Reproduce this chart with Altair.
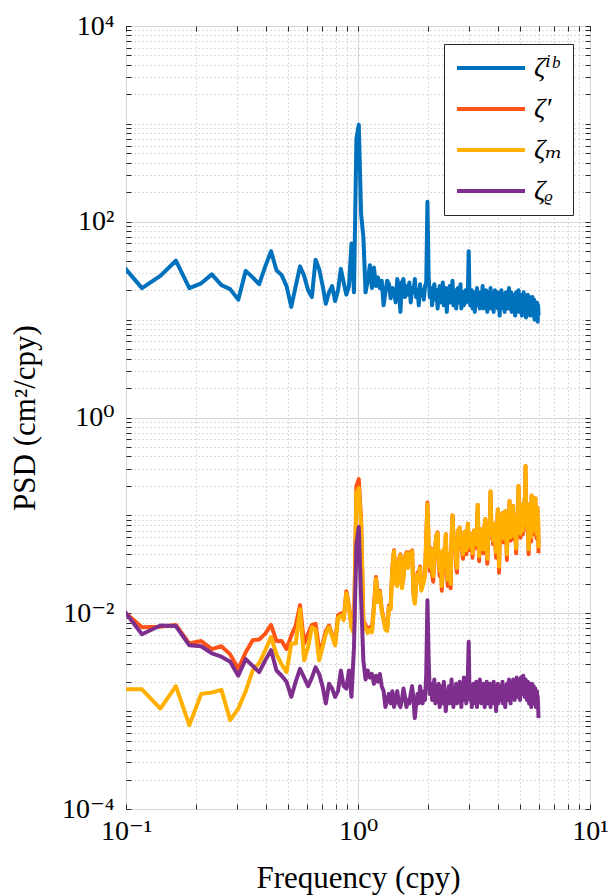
import altair as alt
import pandas as pd

# frequency grid: 512 monthly samples -> df = 12/512 cpy, first plotted bin k=4
DF = 12 / 512
K0 = 4

SERIES = ["ζⁱᵇ", "ζ′", "ζₘ", "ζᵨ"]
COLORS = ["#0072BD", "#FF5416", "#FFB000", "#7E2F8E"]

blue = [
    39, 21, 28, 40, 21, 23.5, 29, 22.5, 20.5, 16,
    31.5, 27, 23, 35, 50, 32, 28.5, 22, 13.5, 22,
    35, 28, 20, 17, 41, 33, 22.5, 14.5, 19, 22,
    15.5, 20, 33, 24, 18, 22, 60, 19, 700, 980,
    120, 70, 19,
    25, 36, 21, 34, 22, 27, 21, 25, 14, 19,
    25, 23, 16.5, 21, 20, 15, 26, 22, 12, 24,
    26, 17, 22, 18, 24, 15, 21, 19, 26, 17,
    20, 14, 23, 18, 20, 16, 22, 24, 160,
    28, 17, 21, 14, 19, 23, 16, 20, 13, 18,
    22, 15, 19, 24, 14, 17, 21, 12, 18, 16,
    22, 15, 19, 25, 14, 17, 20, 13, 16, 21,
    15, 18, 23, 13, 17, 19, 14, 16, 20, 15,
    18, 21, 50,
    18, 14, 17, 20, 13, 16, 19, 12, 17, 15,
    21, 14, 18, 16, 13, 19, 15, 17, 22, 13,
    16, 18, 14, 20, 15, 12, 17, 19, 14, 16,
    21, 13, 17, 15, 18, 12, 16, 20, 14, 17,
    15, 19, 13, 16, 18, 11, 15, 17, 20, 14,
    16, 13, 18, 15, 12, 17, 19, 14, 16, 13,
    18, 15, 21, 13, 16, 14, 19, 12, 15, 17,
    14, 18, 13, 16, 11, 15, 19, 14, 17, 13,
    16, 20, 12, 15, 14, 18, 13, 16, 11, 15,
    17, 14, 19, 12, 15, 13, 17, 10.5, 14, 16,
    13, 18, 12, 15, 14, 17, 11, 15, 13, 16,
    12, 15, 17, 11, 14, 13, 16, 10, 14, 15,
    12, 14, 11, 15, 13, 9.5, 14, 11,
]

orange = [
    0.0114, 0.0072, 0.0073, 0.0076, 0.0049, 0.0052, 0.0043, 0.0046, 0.0038, 0.0027,
    0.0040, 0.0053, 0.0054, 0.0062, 0.0076, 0.0052, 0.0052, 0.0043, 0.0059, 0.0075,
    0.0121, 0.0049, 0.0062, 0.0076, 0.0078, 0.0043, 0.0048, 0.0066, 0.0075, 0.0060,
    0.0049, 0.0095, 0.0100, 0.0088, 0.0168, 0.0120, 0.0075, 0.0068, 0.20, 0.235,
    0.09, 0.0085, 0.0075, 0.0068, 0.0072, 0.0068, 0.012, 0.0235, 0.014, 0.017,
    0.011, 0.0088, 0.0072, 0.0070, 0.012, 0.0115, 0.030, 0.044, 0.021, 0.020,
    0.035, 0.040, 0.019, 0.024, 0.037, 0.042, 0.030, 0.042, 0.038, 0.044,
    0.016, 0.013, 0.020, 0.026, 0.024, 0.030, 0.018, 0.020, 0.022, 0.025,
    0.060, 0.135,
    0.05, 0.027, 0.046, 0.025, 0.021, 0.038, 0.05, 0.063, 0.067, 0.032,
    0.024, 0.042, 0.017, 0.027, 0.045, 0.036, 0.064, 0.027, 0.019, 0.04,
    0.03, 0.018, 0.058, 0.1, 0.06, 0.043, 0.052, 0.03, 0.026, 0.07,
    0.052, 0.075, 0.047, 0.062, 0.042, 0.036, 0.058, 0.068, 0.047, 0.04,
    0.06, 0.082, 0.052, 0.044, 0.065, 0.049, 0.06, 0.037, 0.058, 0.07,
    0.046, 0.062, 0.051, 0.075, 0.128, 0.057, 0.034, 0.055, 0.068, 0.046,
    0.072, 0.054, 0.041, 0.065, 0.08, 0.092, 0.056, 0.044, 0.032, 0.055,
    0.07, 0.058, 0.085, 0.175, 0.09, 0.061, 0.078, 0.051, 0.07, 0.056,
    0.082, 0.046, 0.037, 0.065, 0.08, 0.115, 0.056, 0.026, 0.055, 0.072,
    0.061, 0.09, 0.07, 0.105, 0.066, 0.053, 0.08, 0.063, 0.11, 0.07,
    0.055, 0.035, 0.07, 0.085, 0.06, 0.09, 0.14, 0.075, 0.055, 0.078,
    0.095, 0.065, 0.085, 0.125, 0.07, 0.057, 0.09, 0.075, 0.053, 0.041,
    0.075, 0.1, 0.08, 0.12, 0.2, 0.095, 0.07, 0.09, 0.059, 0.11,
    0.08, 0.13, 0.074, 0.064, 0.095, 0.12, 0.085, 0.15, 0.105, 0.32,
    0.115, 0.078, 0.1, 0.069, 0.11, 0.062, 0.04, 0.09, 0.13, 0.095,
    0.074, 0.12, 0.054, 0.16, 0.095, 0.078, 0.12, 0.064, 0.095, 0.13,
    0.084, 0.11, 0.15, 0.073, 0.11, 0.058, 0.1, 0.12, 0.068, 0.09,
    0.041,
]

yellow = [
    0.00167, 0.00167, 0.00106, 0.0018, 0.00072, 0.0015, 0.00155, 0.00165, 0.00081, 0.00106,
    0.0016, 0.0026, 0.0031, 0.0042, 0.0057, 0.0038, 0.0030, 0.0025, 0.0049, 0.0049,
    0.0110, 0.0033, 0.0045, 0.0072, 0.0068, 0.0033, 0.0045, 0.0062, 0.0072, 0.0058,
    0.0047, 0.0090, 0.0095, 0.0085, 0.0160, 0.0115, 0.0070, 0.0062, 0.17, 0.19,
    0.08, 0.0080, 0.0070, 0.0063, 0.0068, 0.0064, 0.011, 0.0225, 0.013, 0.0165,
    0.0105, 0.0085, 0.0068, 0.0066, 0.0115, 0.011, 0.029, 0.043, 0.020, 0.019,
    0.034, 0.039, 0.018, 0.023, 0.036, 0.041, 0.029, 0.041, 0.037, 0.043,
    0.015, 0.0125, 0.019, 0.025, 0.023, 0.029, 0.017, 0.019, 0.021, 0.024,
    0.058, 0.13,
    0.048, 0.03, 0.045, 0.028, 0.024, 0.038, 0.05, 0.062, 0.066, 0.035,
    0.027, 0.042, 0.019, 0.03, 0.045, 0.038, 0.064, 0.03, 0.022, 0.04,
    0.033, 0.02, 0.058, 0.1, 0.06, 0.045, 0.052, 0.034, 0.029, 0.07,
    0.055, 0.075, 0.05, 0.062, 0.045, 0.04, 0.058, 0.068, 0.05, 0.044,
    0.06, 0.082, 0.055, 0.048, 0.065, 0.052, 0.06, 0.041, 0.058, 0.07,
    0.05, 0.062, 0.055, 0.075, 0.128, 0.06, 0.038, 0.055, 0.068, 0.05,
    0.072, 0.058, 0.045, 0.065, 0.08, 0.092, 0.06, 0.048, 0.036, 0.055,
    0.07, 0.062, 0.085, 0.175, 0.09, 0.065, 0.078, 0.055, 0.07, 0.06,
    0.082, 0.05, 0.042, 0.065, 0.08, 0.115, 0.06, 0.03, 0.055, 0.072,
    0.065, 0.09, 0.075, 0.105, 0.07, 0.058, 0.08, 0.068, 0.11, 0.075,
    0.06, 0.04, 0.07, 0.085, 0.065, 0.09, 0.14, 0.08, 0.06, 0.078,
    0.095, 0.07, 0.085, 0.125, 0.075, 0.062, 0.09, 0.08, 0.058, 0.046,
    0.075, 0.1, 0.085, 0.12, 0.2, 0.1, 0.075, 0.09, 0.065, 0.11,
    0.085, 0.13, 0.08, 0.07, 0.095, 0.12, 0.09, 0.15, 0.11, 0.32,
    0.12, 0.085, 0.1, 0.075, 0.11, 0.068, 0.045, 0.09, 0.13, 0.1,
    0.08, 0.12, 0.06, 0.16, 0.1, 0.085, 0.12, 0.07, 0.095, 0.13,
    0.09, 0.11, 0.15, 0.08, 0.11, 0.065, 0.1, 0.12, 0.075, 0.09,
    0.046,
]

purple = [
    0.0122, 0.0061, 0.0075, 0.0074, 0.0047, 0.0046, 0.0039, 0.0036, 0.0032, 0.0023,
    0.0034, 0.0029, 0.0025, 0.0033, 0.0042, 0.0026, 0.0023, 0.0020, 0.0014, 0.0020,
    0.0027, 0.0022, 0.0018, 0.0022, 0.0028, 0.0024, 0.0018, 0.0012, 0.0019, 0.0017,
    0.0014, 0.0016, 0.0026, 0.0018, 0.0017, 0.0026, 0.0014, 0.0045, 0.05, 0.076,
    0.0146, 0.0033, 0.0021, 0.0026, 0.0022, 0.0024, 0.0019, 0.0023, 0.0020, 0.0024,
    0.0018, 0.0016, 0.0011, 0.0013, 0.0015, 0.0012, 0.0016, 0.0011, 0.0013, 0.0016,
    0.0012, 0.0011, 0.0013, 0.0017, 0.0014, 0.0011, 0.0013, 0.0012, 0.0015, 0.0018,
    0.0013, 0.00085, 0.0012, 0.0015, 0.0012, 0.0018, 0.0014, 0.0012, 0.0016, 0.0013,
    0.0024, 0.0136,
    0.0035, 0.0015, 0.0019, 0.0013, 0.0017, 0.0021, 0.0012, 0.0016, 0.0014, 0.0019,
    0.0011, 0.0015, 0.0018, 0.0012, 0.0020, 0.0014, 0.0010, 0.0016, 0.0013, 0.0018,
    0.0012, 0.0015, 0.0021, 0.0013, 0.0011, 0.0017, 0.0014, 0.0019, 0.0012, 0.0016,
    0.0013, 0.0020, 0.0015, 0.0011, 0.0017, 0.0014, 0.0022, 0.0013, 0.0016, 0.0012,
    0.0018, 0.0024, 0.0051, 0.0016, 0.0013, 0.0018, 0.0011, 0.0015, 0.0019, 0.0012,
    0.0016, 0.0014, 0.0020, 0.0011, 0.0015, 0.0018, 0.0013, 0.0021, 0.0014, 0.0012,
    0.0017, 0.0013, 0.0019, 0.0015, 0.0011, 0.0016, 0.0014, 0.0020, 0.0012, 0.0017,
    0.0015, 0.0013, 0.0019, 0.0011, 0.0016, 0.0018, 0.0013, 0.0015, 0.0020, 0.0012,
    0.0016, 0.0014, 0.0010, 0.0017, 0.0015, 0.0019, 0.0012, 0.0016, 0.0014, 0.0018,
    0.0013, 0.0017, 0.0015, 0.0020, 0.0012, 0.0016, 0.0018, 0.0014, 0.0011, 0.0017,
    0.0015, 0.0019, 0.0013, 0.0017, 0.0016, 0.0021, 0.0014, 0.0018, 0.0012, 0.0016,
    0.0019, 0.0014, 0.0017, 0.0021, 0.0015, 0.0018, 0.0013, 0.0020, 0.0016, 0.0019,
    0.0022, 0.0015, 0.0018, 0.0014, 0.0021, 0.0017, 0.0019, 0.0013, 0.0018, 0.0022,
    0.0016, 0.0020, 0.0015, 0.0019, 0.0023, 0.0017, 0.0020, 0.0014, 0.0018, 0.0021,
    0.0016, 0.0019, 0.0013, 0.0017, 0.0020, 0.0015, 0.0018, 0.0012, 0.0016, 0.0019,
    0.0014, 0.0017, 0.0011, 0.0016, 0.0019, 0.0013, 0.0017, 0.0015, 0.0018, 0.0012,
    0.0016, 0.0014, 0.0017, 0.0011, 0.0015, 0.0013, 0.0016, 0.0012, 0.0014, 0.0011,
    0.00085,
]

X_TICKS = [0.1, 0.2, 0.3, 0.4, 0.5, 0.6, 0.7, 0.8, 0.9,
           1, 2, 3, 4, 5, 6, 7, 8, 9, 10]
Y_TICKS = [round(m * 10.0 ** e, 8) for e in range(-4, 4) for m in range(1, 10)] + [10000]

X_LABELS = ("datum.value == 0.1 ? '10⁻¹' : datum.value == 1 ? '10⁰' : "
            "datum.value == 10 ? '10¹' : ''")
Y_LABELS = ("datum.value == 10000 ? '10⁴' : datum.value == 100 ? '10²' : "
            "datum.value == 1 ? '10⁰' : datum.value == 0.01 ? '10⁻²' : "
            "datum.value == 0.0001 ? '10⁻⁴' : ''")
X_MAJOR = "datum.value == 0.1 || datum.value == 1 || datum.value == 10"
Y_MAJOR = ("datum.value == 10000 || datum.value == 100 || datum.value == 1 || "
           "datum.value == 0.01 || datum.value == 0.0001")

rows = []
for idx, (name, vals) in enumerate(zip(SERIES, [blue, orange, yellow, purple])):
    for i, v in enumerate(vals):
        rows.append({"freq": (K0 + i) * DF, "psd": v, "series": name, "o": idx})
df = pd.DataFrame(rows)

FONT = "Liberation Serif, Times New Roman, DejaVu Serif, serif"
INK = "#262626"

xscale = alt.Scale(type="log", domain=[0.1, 10], nice=False)
yscale = alt.Scale(type="log", domain=[1e-4, 1e4], nice=False)

def grid_props(test):
    return dict(
        grid=True,
        gridColor={"condition": {"test": test, "value": "#d6d6d6"}, "value": "#b5b5b5"},
        gridDash={"condition": {"test": test, "value": []}, "value": [1, 3]},
        gridWidth=1,
    )

x_axis = alt.Axis(
    values=X_TICKS, labelExpr=X_LABELS, labelOverlap=False, labelFlush=False,
    labelFont=FONT, labelFontSize=28, labelColor="#000", labelPadding=8,
    domain=False, ticks=True, tickSize=5, tickColor=INK, offset=-5,
    title="Frequency (cpy)", titleFont=FONT, titleFontSize=31,
    titleFontWeight="normal", titleColor="#000", titlePadding=18,
    **grid_props(X_MAJOR),
)
y_axis = alt.Axis(
    values=Y_TICKS, labelExpr=Y_LABELS, labelOverlap=False, labelFlush=False,
    labelFont=FONT, labelFontSize=28, labelColor="#000", labelPadding=12,
    domain=False, ticks=True, tickSize=5, tickColor=INK, offset=-5,
    title="PSD (cm²/cpy)", titleFont=FONT, titleFontSize=31,
    titleFontWeight="normal", titleColor="#000", titlePadding=20,
    **grid_props(Y_MAJOR),
)

base = alt.Chart(df)

lines = base.mark_line(strokeWidth=4, clip=True, strokeJoin="round").encode(
    x=alt.X("freq:Q", scale=xscale, axis=x_axis),
    y=alt.Y("psd:Q", scale=yscale, axis=y_axis),
    color=alt.Color(
        "series:N",
        scale=alt.Scale(domain=SERIES, range=COLORS),
        sort=SERIES,
        legend=alt.Legend(
            title=None, orient="none", legendX=318, legendY=18,
            symbolType="M-3,0H3", symbolSize=514, symbolStrokeWidth=4,
            symbolOffset=23,
            labelFont=FONT, labelFontSize=28, labelFontStyle="italic",
            labelColor="#000", labelOffset=29, rowPadding=13,
            padding=10, strokeColor=INK, fillColor="white",
        ),
    ),
)

ticks = base.mark_line(opacity=0, clip=True).encode(
    x=alt.X("freq:Q", scale=xscale, axis=alt.Axis(
        orient="top", values=X_TICKS, labels=False, grid=False, domain=False,
        ticks=True, tickSize=5, tickColor=INK, offset=-5, title=None)),
    y=alt.Y("psd:Q", scale=yscale, axis=alt.Axis(
        orient="right", values=Y_TICKS, labels=False, grid=False, domain=False,
        ticks=True, tickSize=5, tickColor=INK, offset=-5, title=None)),
    detail="series:N",
)

chart = (
    alt.layer(lines, ticks)
    .resolve_axis(x="independent", y="independent")
    .properties(
        width=464, height=783,
        autosize=alt.AutoSizeParams(type="none"),
        padding={"left": 126, "top": 26, "right": 19, "bottom": 86},
        background="white",
    )
    .configure_view(stroke=INK, strokeWidth=1)
)

chart.save("out.html", embed_options={"renderer": "svg", "actions": False})
